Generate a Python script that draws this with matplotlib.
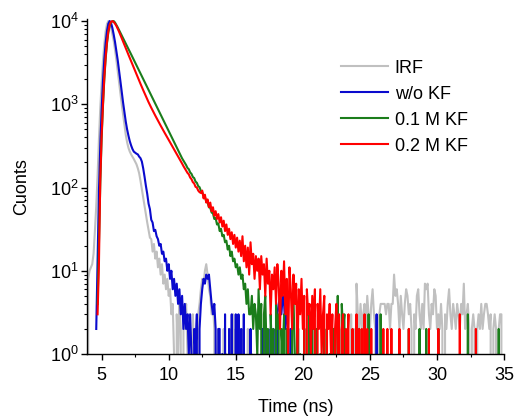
import numpy as np
import matplotlib
matplotlib.use("Agg")
import matplotlib.pyplot as plt
from matplotlib.ticker import MultipleLocator, LogLocator, NullFormatter

plt.rcParams.update({"font.family": "Liberation Sans", "font.size": 13,
                     "mathtext.fontset": "custom", "mathtext.rm": "Liberation Sans",
                     "mathtext.it": "Liberation Sans:italic", "mathtext.default": "regular",
                     "axes.linewidth": 1.0})

# decay histograms, 0.1 ns channels, counts (one row = 1 ns)
STEP = 0.1
LABELS = ["IRF", "w/o KF", "0.1 M KF", "0.2 M KF"]
COLORS = ["#C0C0C0", "#0A0ACD", "#1B7D1B", "#FF0000"]

IRF_START = 3.9
IRF = [
    0, 8, 10, 11, 12, 16, 30, 60, 140, 380,                       # 3.9
    900, 1800, 3300, 5300, 7500, 9200, 10000, 9600, 8400, 7000,   # 4.9
    5800, 4500, 3400, 2500, 1850, 1350, 1000, 750, 560, 430,      # 5.9
    350, 300, 270, 250, 235, 220, 205, 190, 170, 148,             # 6.9
    120, 95, 75, 60, 48, 38, 31, 25, 24, 17,                      # 7.9
    21, 14, 17, 11, 14, 9, 12, 7, 9, 6,                           # 8.9
    8, 5, 6, 3, 4, 1, 0, 3, 1, 4,                                 # 9.9
    2, 0, 3, 2, 4, 1, 3, 2, 0, 3,                                 # 10.9
    1, 2, 0, 3, 4, 6, 8, 7, 10, 12,                               # 11.9
    9, 6, 5, 3, 4, 2, 0, 1, 2, 0,                                 # 12.9
    1, 0, 2, 0, 1, 0, 0, 2, 0, 3,                                 # 13.9
    0, 2, 0, 0, 1, 0, 2, 0, 0, 0,                                 # 14.9
    2, 0, 0, 1, 0, 0, 0, 2, 0, 0,                                 # 15.9
    0, 1, 0, 0, 2, 0, 0, 0, 0, 2,                                 # 16.9
    0, 0, 1, 0, 0, 0, 2, 0, 0, 0,                                 # 17.9
    0, 2, 0, 0, 0, 1, 0, 0, 2, 0,                                 # 18.9
    0, 0, 0, 2, 0, 0, 0, 0, 1, 0,                                 # 19.9
    0, 2, 0, 0, 0, 0, 2, 0, 0, 0,                                 # 20.9
    0, 0, 1, 0, 0, 2, 0, 0, 0, 0,                                 # 21.9
    2, 0, 0, 0, 2, 0, 0, 3, 0, 2,                                 # 22.9
    0, 7, 3, 2, 4, 2, 3, 4, 2, 5,                                 # 23.9
    3, 2, 4, 6, 3, 2, 0, 2, 3, 4,                                 # 24.9
    4, 4, 4, 3, 4, 4, 2, 4, 4, 9,                                 # 25.9
    5, 6, 4, 2, 5, 3, 2, 4, 6, 5,                                 # 26.9
    3, 4, 2, 0, 3, 2, 5, 6, 3, 2,                                 # 27.9
    4, 2, 7, 6, 7, 3, 2, 4, 3, 6,                                 # 28.9
    5, 2, 3, 2, 4, 2, 0, 3, 2, 4,                                 # 29.9
    6, 3, 2, 4, 3, 2, 4, 3, 2, 4,                                 # 30.9
    3, 7, 2, 3, 4, 2, 0, 2, 3, 2,                                 # 31.9
    0, 2, 3, 2, 4, 2, 3, 4, 4, 3,                                 # 32.9
    2, 3, 0, 2, 3, 2, 0, 2, 3, 3,                                 # 33.9
    0,                                                            # 34.9
]

NOKF_START = 4.6
NOKF = [
    2, 14, 90, 320, 850, 1900, 3500, 5500, 7600, 9300,            # 4.6
    10000, 9500, 8300, 6900, 5600, 4400, 3400, 2550, 1900, 1400,  # 5.6
    1050, 800, 620, 500, 420, 360, 320, 290, 270, 262,            # 6.6
    255, 250, 235, 225, 205, 170, 135, 105, 84, 64,               # 7.6
    55, 41, 38, 30, 31, 26, 24, 20, 21, 16,                       # 8.6
    17, 13, 14, 10, 12, 8, 10, 6, 8, 5,                           # 9.6
    7, 4, 6, 3, 5, 2, 4, 2, 3, 1,                                 # 10.6
    3, 1, 0, 2, 1, 3, 0, 2, 4, 6,                                 # 11.6
    8, 7, 9, 8, 9, 6, 4, 3, 4, 2,                                 # 12.6
    0, 2, 2, 0, 1, 0, 3, 0, 0, 2,                                 # 13.6
    0, 3, 0, 0, 3, 0, 3, 0, 2, 0,                                 # 14.6
    3, 0, 0, 0, 0, 2, 0, 0, 0, 0,                                 # 15.6
    0, 0, 0, 0, 2, 0, 0, 2, 0, 0,                                 # 16.6
    2, 0, 2, 0, 0, 3, 4, 5, 3, 5,                                 # 17.6
    4, 2, 4, 2, 0, 2, 0, 0, 0, 0,                                 # 18.6
    0, 0, 0, 0, 0, 0, 0, 0, 0, 0,                                 # 19.6
    0, 0, 0, 0, 0, 0, 0, 0, 0, 0,                                 # 20.6
    0, 0, 0, 0, 0, 0, 0, 0, 0, 0,                                 # 21.6
    0, 0, 0, 0, 0, 0, 0, 0, 0, 0,                                 # 22.6
    0, 0, 0, 0, 0, 0, 0, 0, 0, 0,                                 # 23.6
    0, 0, 0, 0, 0, 0, 0, 0, 0, 3,                                 # 24.6
    0,                                                            # 25.6
]

KF01_START = 4.7
KF01 = [
    4, 20, 110, 380, 950, 2000, 3500, 5400, 7300, 8800,           # 4.7
    9700, 9900, 10000, 9600, 9000, 8400, 7800, 7250, 6750, 6250,  # 5.7
    5800, 5380, 4990, 4630, 4290, 3980, 3690, 3420, 3170, 2940,   # 6.7
    2730, 2530, 2350, 2180, 2020, 1870, 1740, 1610, 1490, 1380,   # 7.7
    1280, 1190, 1100, 1020, 950, 880, 815, 755, 700, 650,         # 8.7
    602, 558, 517, 480, 445, 412, 382, 354, 328, 304,             # 9.7
    282, 261, 242, 224, 210, 198, 186, 172, 166, 152,             # 10.7
    146, 134, 130, 118, 114, 104, 101, 91, 88, 79,                # 11.7
    77, 68, 66, 58, 57, 50, 49, 42, 43, 36,                       # 12.7
    37, 30, 32, 26, 27, 22, 23, 18, 20, 15,                       # 13.7
    17, 13, 14, 11, 12, 9, 11, 8, 9, 6,                           # 14.7
    7, 4, 6, 3, 3, 5, 2, 4, 3, 1,                                 # 15.7
    6, 2, 4, 0, 3, 5, 1, 2, 0, 3,                                 # 16.7
    1, 2, 0, 4, 2, 3, 0, 2, 1, 3,                                 # 17.7
    0, 2, 0, 1, 0, 2, 5, 1, 0, 3,                                 # 18.7
    0, 1, 0, 0, 2, 0, 1, 0, 3, 0,                                 # 19.7
    2, 0, 0, 2, 0, 0, 1, 0, 0, 2,                                 # 20.7
    0, 0, 0, 1, 0, 0, 2, 0, 0, 5,                                 # 21.7
    0, 0, 4, 2, 3, 0, 0, 0, 0, 0,                                 # 22.7
    0, 0, 0, 0, 0, 2, 0, 0, 0, 0,                                 # 23.7
    0, 0, 3, 0, 0, 0, 0, 0, 0, 0,                                 # 24.7
    0, 3, 0, 0, 0, 0, 0, 0, 0, 0,                                 # 25.7
    0, 0, 0, 0, 0, 0, 0, 0, 0, 0,                                 # 26.7
    0, 0, 2, 0, 0, 0, 0, 0, 0, 0,                                 # 27.7
    2, 0, 0, 0, 0, 2, 0, 0, 0, 0,                                 # 28.7
    0, 0, 0, 0, 2, 0, 0, 0, 0, 0,                                 # 29.7
    0, 0, 0, 0, 0, 0, 0, 0, 0, 0,                                 # 30.7
    0, 0, 0, 0, 0, 0, 3, 0, 0, 0,                                 # 31.7
    0, 0, 0, 0, 0, 0, 0, 0, 0, 0,                                 # 32.7
    0, 0, 0, 0, 0, 0, 0, 0, 0, 2,                                 # 33.7
    0,                                                            # 34.7
]

KF02_START = 4.7
KF02 = [
    3, 12, 120, 420, 1000, 2100, 3700, 5600, 7500, 9000,          # 4.7
    9800, 10000, 9750, 9300, 8750, 8100, 7450, 6820, 6220, 5670,  # 5.7
    5170, 4720, 4320, 3940, 3600, 3280, 3000, 2740, 2500, 2290,   # 6.7
    2100, 1920, 1760, 1620, 1480, 1360, 1250, 1150, 1060, 980,    # 7.7
    910, 845, 787, 732, 682, 636, 595, 555, 518, 486,             # 8.7
    454, 426, 399, 374, 350, 328, 308, 288, 270, 253,             # 9.7
    237, 222, 207, 194, 181, 170, 160, 150, 144, 132,             # 10.7
    126, 116, 112, 102, 100, 92, 88, 86, 92, 74,                  # 11.7
    82, 66, 72, 58, 66, 52, 58, 46, 52, 42,                       # 12.7
    48, 38, 44, 34, 40, 30, 36, 27, 32, 24,                       # 13.7
    29, 21, 27, 19, 25, 17, 23, 15, 26, 13,                       # 14.7
    20, 11, 19, 9, 22, 12, 16, 8, 15, 10,                         # 15.7
    14, 6, 15, 9, 12, 5, 14, 7, 10, 3,                            # 16.7
    9, 6, 11, 4, 12, 7, 2, 10, 5, 13,                             # 17.7
    3, 8, 1, 11, 6, 2, 9, 4, 7, 1,                                # 18.7
    6, 3, 8, 2, 5, 0, 6, 3, 4, 1,                                 # 19.7
    5, 2, 6, 0, 4, 2, 6, 1, 3, 5,                                 # 20.7
    0, 3, 2, 4, 1, 3, 0, 2, 4, 1,                                 # 21.7
    3, 0, 2, 3, 0, 2, 1, 3, 0, 0,                                 # 22.7
    2, 0, 0, 3, 0, 2, 0, 2, 0, 3,                                 # 23.7
    0, 2, 0, 0, 2, 0, 0, 0, 0, 0,                                 # 24.7
    0, 0, 0, 2, 0, 0, 2, 0, 0, 2,                                 # 25.7
    0, 0, 0, 0, 0, 2, 0, 0, 0, 0,                                 # 26.7
    0, 0, 2, 0, 0, 0, 0, 0, 0, 0,                                 # 27.7
    0, 0, 0, 0, 0, 0, 0, 2, 0, 0,                                 # 28.7
    0, 0, 0, 0, 2, 0, 0, 0, 0, 0,                                 # 29.7
    0, 0, 0, 0, 0, 0, 0, 0, 0, 0,                                 # 30.7
    3, 0, 0, 0, 0, 0, 0, 0, 0, 0,                                 # 31.7
    0, 0, 2, 0, 0, 0, 0, 0, 0, 0,                                 # 32.7
    0, 0, 0, 0, 0, 0, 0, 0, 0, 0,                                 # 33.7
]

series = [(IRF_START, IRF), (NOKF_START, NOKF), (KF01_START, KF01), (KF02_START, KF02)]

fig = plt.figure(figsize=(5.17, 4.16), dpi=100)
ax = fig.add_axes([0.168, 0.149, 0.807, 0.8046])
for (t0, counts), lab, col in zip(series, LABELS, COLORS):
    t = t0 + STEP * np.arange(len(counts))
    ax.plot(t, counts, color=col, lw=1.5, label=lab)

ax.set_yscale("log", nonpositive="clip")
ax.set_xlim(3.9, 35)
ax.set_ylim(1, 1.05e4)
ax.set_xticks([5, 10, 15, 20, 25, 30, 35])
ax.xaxis.set_minor_locator(MultipleLocator(2.5))
ax.yaxis.set_major_locator(LogLocator(base=10, numticks=10))
ax.yaxis.set_minor_locator(LogLocator(base=10, subs=np.arange(2, 10), numticks=20))
ax.yaxis.set_minor_formatter(NullFormatter())
ax.tick_params(which="major", direction="out", length=4, width=1.0, labelsize=13)
ax.tick_params(which="minor", direction="out", length=2.5, width=0.8)
ax.tick_params(axis="x", pad=5)
ax.tick_params(axis="y", pad=2)
for s in ["top", "right"]:
    ax.spines[s].set_visible(False)
ax.set_xlabel("Time (ns)", fontsize=13, labelpad=11)
ax.set_ylabel("Cuonts", fontsize=13, labelpad=14)
ax.legend(loc="upper left", bbox_to_anchor=(0.571, 0.928), frameon=False,
          fontsize=13, handlelength=2.6, handletextpad=0.35, labelspacing=0.5,
          borderpad=0.4)
fig.savefig("out.png", dpi=100)
